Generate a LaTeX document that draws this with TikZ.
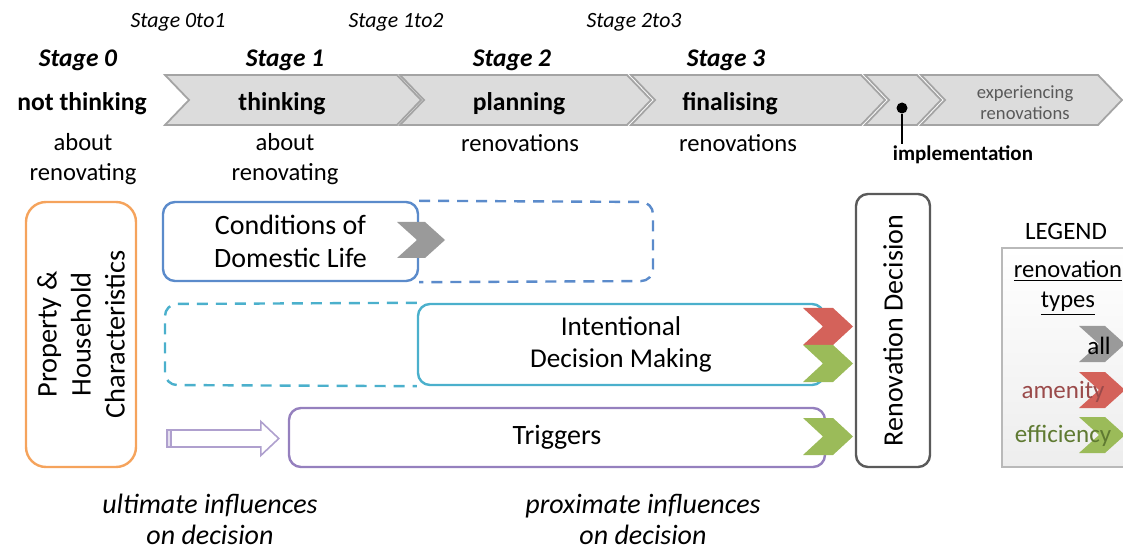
\documentclass[tikz,border=0pt]{standalone}
\usepackage{fontspec}
\setmainfont{Carlito}
\usetikzlibrary{
    calc,
    positioning
}
\definecolor{propcol}{HTML}{F5A35C}
\definecolor{condcol}{HTML}{5B8BCB}
\definecolor{intcol}{HTML}{4BB0CC}
\definecolor{trigcol}{HTML}{9580BE}
\definecolor{decicol}{HTML}{5A5A5A}
\definecolor{allcol}{HTML}{9A9A9A}
\definecolor{amencol}{HTML}{D4625A}
\definecolor{efficol}{HTML}{9BBB59}
\definecolor{amentext}{HTML}{9A4A4A}
\definecolor{effitext}{HTML}{5F7A32}
\definecolor{bandfill}{HTML}{DCDCDC}
\definecolor{bandline}{HTML}{A4A4A4}

\newcommand{\chevshape}[6]{%
    \pgfmathsetmacro{\chmid}{(#4+#5)/2}%
    \pgfmathsetmacro{\chtip}{#3+#6}%
    \pgfmathsetmacro{\chnotch}{#2+#6}%
    \path[#1] (#2,#4) -- (#3,#4) -- (\chtip,\chmid) -- (#3,#5) -- (#2,#5) -- (\chnotch,\chmid) -- cycle;%
}

\tikzset{
    box/.style={draw, line width=1.2pt, rounded corners=6pt, align=center, inner sep=0pt, font=\fontsize{14}{16.5}\selectfont},
    ext/.style={dashed, dash pattern=on 5.5pt off 4pt, line width=1.2pt, rounded corners=6pt},
    band/.style={fill=bandfill, draw=bandline, line width=0.9pt},
    stagesub/.style={font=\fontsize{10.9}{13}\selectfont\itshape},
    stagehead/.style={font=\fontsize{12.7}{15}\selectfont\bfseries\itshape},
    phase/.style={font=\fontsize{12.8}{16}\selectfont\bfseries},
    phasesub/.style={align=center, font=\fontsize{12.3}{15}\selectfont},
    legtext/.style={font=\fontsize{12.5}{15}\selectfont, align=center},
    influence/.style={align=center, font=\fontsize{14}{15.5}\selectfont\itshape},
    hollow/.style={draw=trigcol!75, fill=white, line width=0.8pt}
}

\begin{document}
\begin{tikzpicture}[x=0.5pt, y=-0.5pt]
    \useasboundingbox (0,0) rectangle (1123,550);

    \chevshape{band}{165}{397}{75}{125}{24}
    \chevshape{band}{400}{627}{75}{125}{24}
    \chevshape{band}{631}{861}{75}{125}{24}
    \chevshape{band}{865}{917}{75}{125}{24}
    \chevshape{band}{921}{1098}{75}{125}{24}

    \node[stagesub] (sub01) at (178,22) {Stage 0to1};
    \node[stagesub] (sub12) at (396,22) {Stage 1to2};
    \node[stagesub] (sub23) at (634,22) {Stage 2to3};

    \node[stagehead] (stage0) at (78,60) {Stage 0};
    \node[stagehead] (stage1) at (285,60) {Stage 1};
    \node[stagehead] (stage2) at (512,60) {Stage 2};
    \node[stagehead] (stage3) at (726,60) {Stage 3};

    \node[phase] (notthink) at (82,104) {not thinking};
    \node[phase] (think) at (282,104) {thinking};
    \node[phase] (plan) at (519,104) {planning};
    \node[phase] (final) at (730,104) {finalising};

    \node[phasesub] (notthinksub) at (83,159) {about\\renovating};
    \node[phasesub] (thinksub) at (285,159) {about\\renovating};
    \node[phasesub] (plansub) at (520,143) {renovations};
    \node[phasesub] (finalsub) at (738,143) {renovations};

    \node[align=center, text=black!65, font=\fontsize{9.3}{10.5}\selectfont] (experience) at (1025,103) {experiencing\\renovations};

    \node[circle, fill=black, inner sep=0pt, minimum size=5.5pt] (impdot) at (902,108) {};
    \node[inner sep=1pt, font=\fontsize{10.5}{12}\selectfont\bfseries] (impl) at (963,155) {implementation};
    \draw[line width=1.1pt] (impdot) -- (impdot |- impl.north);

    \node[box, draw=propcol, rounded corners=10pt, rotate=90, minimum width=132.5pt, minimum height=55pt, font=\fontsize{14.2}{17}\selectfont] (prop) at (81,334.5) {Property \&\\Household\\Characteristics};
    \node[box, draw=condcol, minimum width=127.5pt, minimum height=39.5pt] (cond) at (290.5,241.5) {Conditions of\\Domestic Life};
    \node[box, draw=intcol, minimum width=203pt, minimum height=40.5pt, font=\fontsize{13.6}{16.2}\selectfont] (intent) at (621,344.5) {Intentional\\Decision Making};
    \node[box, draw=trigcol, minimum width=268pt, minimum height=29.5pt] (trig) at (557,437.5) {Triggers};
    \node[box, draw=decicol, rotate=90, minimum width=136.5pt, minimum height=37pt] (decision) at (893,330.5) {Renovation Decision};

    \draw[ext, draw=condcol] (cond.north east) -- (653,202) -- (653,281) -- (cond.south east);
    \draw[ext, draw=intcol] (intent.north west) -- (165,304) -- (165,385) -- (intent.south west);

    \chevshape{fill=allcol}{397}{425}{222}{258}{20}
    \chevshape{fill=amencol}{803}{833}{308}{345}{20}
    \chevshape{fill=efficol}{803}{833}{345}{382}{20}
    \chevshape{fill=efficol}{803}{833}{418}{455}{20}

    \coordinate (pushtip) at ($(trig.west)+(-9,1)$);
    \draw[hollow] (pushtip) -- ++(-18,-17) -- ++(0,8.5) -- ++(-94,0) -- ++(0,17) -- ++(94,0) -- ++(0,8.5) -- cycle;
    \draw[hollow, fill=trigcol!25] ($(pushtip)+(-112,-8.5)$) rectangle ++(4,17);

    \node[draw=gray!55, line width=1pt, top color=white, bottom color=gray!14, minimum width=69pt, minimum height=109.5pt] (legendbox) at (1071,357.5) {};
    \node[legtext] (legend) at (1066,231) {LEGEND};
    \node[legtext, font=\fontsize{12.3}{15}\selectfont] (renotypes) at (1068,288) {\underline{renovation}\\\underline{types}};

    \chevshape{fill=allcol}{1079}{1105}{326}{362}{20}
    \chevshape{fill=amencol}{1079}{1105}{372}{408}{20}
    \chevshape{fill=efficol}{1079}{1105}{417}{453}{20}

    \node[legtext] (all) at (1099,346) {all};
    \node[legtext, text=amentext] (amenity) at (1063,392) {amenity};
    \node[legtext, text=effitext] (efficiency) at (1063,436) {efficiency};

    \node[influence] (ultimate) at (210,519) {ultimate influences\\on decision};
    \node[influence] (proximate) at (643,519) {proximate influences\\on decision};
\end{tikzpicture}
\end{document}
